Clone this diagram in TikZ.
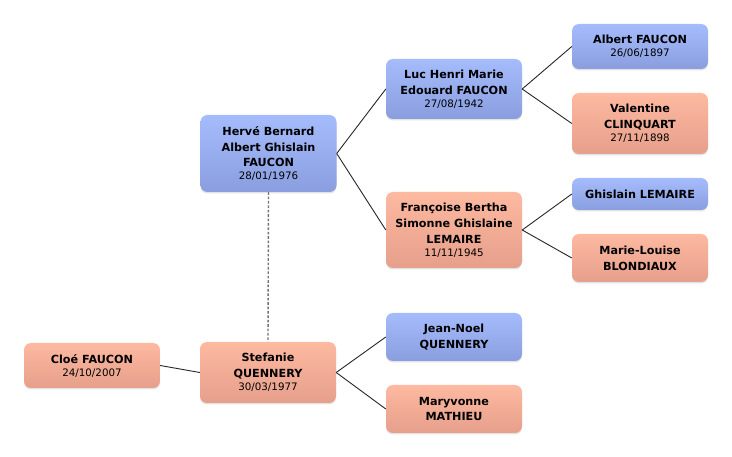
\documentclass[tikz,border=0pt]{standalone}
\usepackage{fontspec}
\setmainfont{DejaVu Sans}
\usetikzlibrary{shadows}
\definecolor{btop}{HTML}{A5BCFC}
\definecolor{bbot}{HTML}{8A9EDF}
\definecolor{stop}{HTML}{FEB9A1}
\definecolor{sbot}{HTML}{E59F8B}
\newcommand{\dt}[1]{\\[-2.8pt]{\fontsize{10.3}{12}\selectfont\mdseries #1}}
\begin{document}
\begin{tikzpicture}[x=1pt,y=-1pt,
  person/.style={rounded corners=7pt, minimum width=136pt, inner sep=1pt, align=center,
    font=\fontsize{11.2}{15.8}\selectfont\bfseries,
    drop shadow={opacity=0.22, shadow xshift=0pt, shadow yshift=-1.5pt}},
  male/.style={person, top color=btop, bottom color=bbot},
  female/.style={person, top color=stop, bottom color=sbot},
  link/.style={draw=black!85, line width=0.9pt}]
\useasboundingbox (0,0) rectangle (732,457);
\node[male, minimum height=77pt] (herve) at (268.5,153.5) {Hervé Bernard\\Albert Ghislain\\FAUCON\dt{28/01/1976}};
\node[male, minimum height=60pt] (luc) at (454,89) {Luc Henri Marie\\Edouard FAUCON\dt{27/08/1942}};
\node[female, minimum height=76pt] (francoise) at (454,230) {Françoise Bertha\\Simonne Ghislaine\\LEMAIRE\dt{11/11/1945}};
\node[male, minimum height=45pt] (albert) at (640,46.5) {Albert FAUCON\dt{26/06/1897}};
\node[female, minimum height=61pt] (valentine) at (640,123.5) {Valentine\\CLINQUART\dt{27/11/1898}};
\node[male, minimum height=32pt] (ghislain) at (640,194) {Ghislain LEMAIRE};
\node[female, minimum height=48pt] (marie) at (640,258) {Marie-Louise\\BLONDIAUX};
\node[female, minimum height=45pt] (cloe) at (92,365.5) {Cloé FAUCON\dt{24/10/2007}};
\node[female, minimum height=61pt] (stefanie) at (268,372.5) {Stefanie\\QUENNERY\dt{30/03/1977}};
\node[male, minimum height=48pt] (jeannoel) at (454,337) {Jean-Noel\\QUENNERY};
\node[female, minimum height=48pt] (maryvonne) at (454,409) {Maryvonne\\MATHIEU};
\draw[link] (herve.east) -- (luc.west);
\draw[link] (herve.east) -- (francoise.west);
\draw[link] (luc.east) -- (albert.west);
\draw[link] (luc.east) -- (valentine.west);
\draw[link] (francoise.east) -- (ghislain.west);
\draw[link] (francoise.east) -- (marie.west);
\draw[link] (stefanie.east) -- (jeannoel.west);
\draw[link] (stefanie.east) -- (maryvonne.west);
\draw[link] (cloe.east) -- (stefanie.west);
\draw[draw=black!55, line width=1.4pt, dash pattern=on 2.6pt off 1.8pt] (herve.south) -- (stefanie.north);
\end{tikzpicture}
\end{document}
